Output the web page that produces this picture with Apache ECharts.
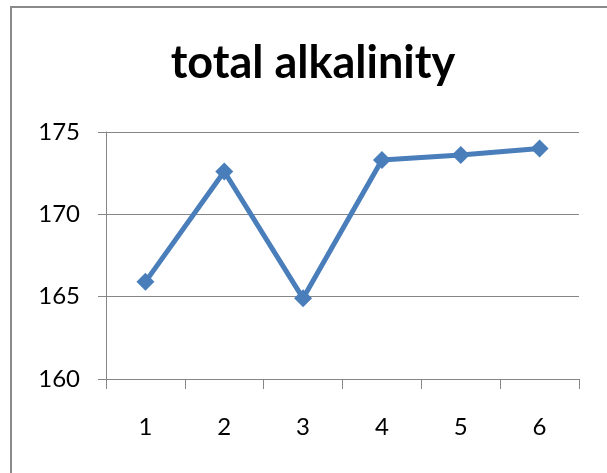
<!DOCTYPE html>
<html>
<head>
<meta charset="utf-8">
<script src="https://cdn.jsdelivr.net/npm/echarts@6/dist/echarts.min.js"></script>
<style>
  html, body { margin: 0; padding: 0; background: #fff; }
  #chart { width: 607px; height: 473px; }
</style>
</head>
<body>
<div id="chart"></div>
<script>
// Sample numbers along the x axis
const categories = ['1', '2', '3', '4', '5', '6'];
// Total alkalinity per sample
const alkalinity = [165.9, 172.6, 164.9, 173.3, 173.6, 174.0];
// Value axis range and step
const yMin = 160;
const yMax = 175;
const yStep = 5;

const axisGray = '#868686';
const lineBlue = '#4a7ebb';
const font = 'Lato, "Noto Sans", sans-serif';

const chart = echarts.init(document.getElementById('chart'));
chart.setOption({
  animation: false,
  backgroundColor: '#ffffff',
  title: {
    text: 'total alkalinity',
    left: 308,
    textAlign: 'center',
    top: 36,
    textStyle: { fontFamily: font, fontWeight: 'bold', fontSize: 45, color: '#000' }
  },
  graphic: [{
    type: 'rect',
    shape: { x: 11, y: 7, width: 620, height: 500 },
    style: { fill: 'none', stroke: '#8a8a8a', lineWidth: 2 },
    silent: true
  }],
  grid: { left: 106, right: 28, top: 132, bottom: 94 },
  xAxis: {
    type: 'category',
    data: categories,
    boundaryGap: true,
    axisLine: { show: true, lineStyle: { color: axisGray, width: 1 } },
    axisTick: { show: true, length: 10, lineStyle: { color: axisGray } },
    axisLabel: { fontFamily: font, fontSize: 24, color: '#000', margin: 36 },
    splitLine: { show: false }
  },
  yAxis: {
    type: 'value',
    min: yMin,
    max: yMax,
    interval: yStep,
    axisLine: { show: true, lineStyle: { color: axisGray, width: 1 } },
    axisTick: { show: true, length: 8, lineStyle: { color: axisGray } },
    axisLabel: { fontFamily: font, fontSize: 24, color: '#000', margin: 26 },
    splitLine: { show: true, lineStyle: { color: axisGray, width: 1 } }
  },
  series: [{
    type: 'line',
    data: alkalinity,
    symbol: 'diamond',
    symbolSize: 18,
    lineStyle: { color: lineBlue, width: 5 },
    itemStyle: { color: lineBlue }
  }]
});
</script>
</body>
</html>
